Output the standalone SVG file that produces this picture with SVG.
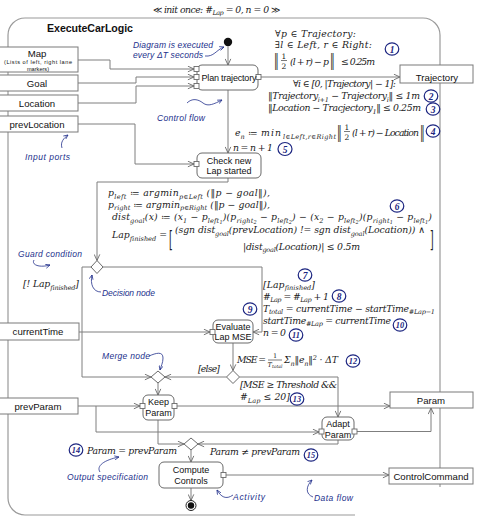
<svg xmlns="http://www.w3.org/2000/svg" width="486" height="526" viewBox="0 0 486 526">
<defs>
<style>
.fr{fill:none;stroke:#9a9a9a;stroke-width:1.2}
.ln{fill:none;stroke:#7f7f7f;stroke-width:1}
.nd{fill:#fff;stroke:#6a6a6a;stroke-width:1}
.pt{fill:#fff;stroke:#7a7a7a;stroke-width:1}
.pin{fill:#fff;stroke:#6a6a6a;stroke-width:0.9}
.t{font-family:"Liberation Sans",Arial,sans-serif;font-size:9px;fill:#111;text-anchor:middle}
.tp{font-family:"Liberation Sans",Arial,sans-serif;font-size:9.6px;fill:#111;text-anchor:middle}
.ts{font-family:"Liberation Sans",Arial,sans-serif;font-size:5.6px;fill:#111;text-anchor:middle}
.ti{font-family:"Liberation Sans",Arial,sans-serif;font-size:10.6px;font-weight:bold;fill:#111}
.m{font-family:"DejaVu Serif","Liberation Serif",serif;font-style:italic;font-size:9.3px;fill:#1a1a1a}
.fn{font-family:"DejaVu Serif","Liberation Serif",serif;font-size:7.5px;fill:#1a1a1a;text-anchor:middle}
.fs{font-family:"DejaVu Serif","Liberation Serif",serif;font-style:italic;font-size:6.5px;fill:#1a1a1a;text-anchor:middle}
.s{font-size:6.5px}
.ss{font-size:5px}
.u{font-style:normal}
.an{font-family:"Liberation Sans",Arial,sans-serif;font-style:italic;font-size:8.5px;fill:#22308c}
.ac{fill:none;stroke:#22308c;stroke-width:0.8}
.cc{fill:none;stroke:#1c2580;stroke-width:1.2}
.cn{font-family:"Liberation Serif",serif;font-style:italic;font-weight:bold;font-size:9.5px;fill:#1c2580;text-anchor:middle}
.cn2{font-family:"Liberation Serif",serif;font-style:italic;font-weight:bold;font-size:8.3px;fill:#1c2580;text-anchor:middle}
</style>
<marker id="ar" viewBox="0 0 8 8" refX="7.5" refY="4" markerWidth="7" markerHeight="7" orient="auto" markerUnits="userSpaceOnUse"><path d="M0.5,0.8 L7.5,4 L0.5,7.2" fill="none" stroke="#666" stroke-width="1"/></marker>
<marker id="ab" viewBox="0 0 8 8" refX="7.5" refY="4" markerWidth="5" markerHeight="5" orient="auto" markerUnits="userSpaceOnUse"><path d="M0.5,0.8 L7.5,4 L0.5,7.2" fill="none" stroke="#22308c" stroke-width="1.2"/></marker>
</defs>
<rect width="486" height="526" fill="#fff"/>

<g id="activity-frame">
<path class="fr" d="M355,515 H25 A17,17 0 0 1 8,498 V35 A17,17 0 0 1 25,18 H423 A17,17 0 0 1 440,35 V487"/>
<text class="ti" x="47" y="32" textLength="86">ExecuteCarLogic</text>
<text class="m" x="153" y="13" textLength="127"><tspan class="u">≪ </tspan>init once: #<tspan class="s" dy="2">Lap</tspan><tspan dy="-2"> = 0, n = 0 </tspan><tspan class="u">≫</tspan></text>
</g>

<g id="connectors">
<path class="ln" d="M228,46.5 V65" marker-end="url(#ar)"/>
<path class="ln" d="M78,60 H110 V69 H194" marker-end="url(#ar)"/>
<path class="ln" d="M78,83 H136 V77 H194" marker-end="url(#ar)"/>
<path class="ln" d="M78,103 H136 V86 H194" marker-end="url(#ar)"/>
<path class="ln" d="M261,77 H400" marker-end="url(#ar)"/>
<path class="ln" d="M228,90 V153" marker-end="url(#ar)"/>
<path class="ln" d="M78,124 H135 V164 H194" marker-end="url(#ar)"/>
<path class="ln" d="M228,178 V182 H97 V260.5" marker-end="url(#ar)"/>
<path class="ln" d="M91,267 H82 V377 H151" marker-end="url(#ar)"/>
<path class="ln" d="M103,267 H262 V332 H253" marker-end="url(#ar)"/>
<path class="ln" d="M79,332 H210" marker-end="url(#ar)"/>
<path class="ln" d="M233,343 V370.5" marker-end="url(#ar)"/>
<path class="ln" d="M226.5,377 H165" marker-end="url(#ar)"/>
<path class="ln" d="M239.5,377 H338 V417" marker-end="url(#ar)"/>
<path class="ln" d="M158,383 V395" marker-end="url(#ar)"/>
<path class="ln" d="M78,406 H140" marker-end="url(#ar)"/>
<path class="ln" d="M96,406 V432 H319" marker-end="url(#ar)"/>
<path class="ln" d="M177,406 H390" marker-end="url(#ar)"/>
<path class="ln" d="M357,431.5 H431 V408" marker-end="url(#ar)"/>
<path class="ln" d="M158,420 V444 H184" marker-end="url(#ar)"/>
<path class="ln" d="M338,440 V444 H198" marker-end="url(#ar)"/>
<path class="ln" d="M191,450 V462" marker-end="url(#ar)"/>
<path class="ln" d="M226,475 H389" marker-end="url(#ar)"/>
<path class="ln" d="M191,488 V500.5" marker-end="url(#ar)"/>
</g>

<g id="port-map"><rect class="pt" x="-2" y="47" width="80" height="25"/><text class="tp" x="37" y="56.5">Map</text><text class="ts" x="38" y="64" textLength="68">(Lists of left, right lane</text><text class="ts" x="38" y="70.5">markers)</text></g>
<g id="port-goal"><rect class="pt" x="-2" y="75" width="80" height="16"/><text class="tp" x="37" y="86.5">Goal</text></g>
<g id="port-location"><rect class="pt" x="-2" y="95" width="80" height="16"/><text class="tp" x="37" y="106.5">Location</text></g>
<g id="port-prevlocation"><rect class="pt" x="-2" y="116" width="80" height="16"/><text class="tp" x="37" y="127.5">prevLocation</text></g>
<g id="port-currenttime"><rect class="pt" x="-2" y="323" width="81" height="17"/><text class="tp" x="38" y="335">currentTime</text></g>
<g id="port-prevparam"><rect class="pt" x="-2" y="398" width="80" height="16"/><text class="tp" x="38" y="409.5">prevParam</text></g>

<g id="port-trajectory"><rect class="pt" x="400" y="65" width="73" height="18"/><text class="tp" x="437" y="80.5">Trajectory</text></g>
<g id="port-param"><rect class="pt" x="390" y="392" width="83" height="16"/><text class="tp" x="431" y="403.5">Param</text></g>
<g id="port-controlcommand"><rect class="pt" x="389" y="468" width="84" height="16"/><text class="tp" x="431" y="479.5">ControlCommand</text></g>

<g id="initial-node"><circle cx="228" cy="42" r="4.2" fill="#111"/></g>
<g id="final-node"><circle cx="191" cy="505.5" r="5" fill="#fff" stroke="#222" stroke-width="1"/><circle cx="191" cy="505.5" r="3.2" fill="#111"/></g>
<g id="decision-lap"><path class="nd" d="M97,260.5 L103,267 L97,273.5 L91,267 Z"/></g>
<g id="decision-mse"><path class="nd" d="M233,370.5 L239.5,377 L233,383.5 L226.5,377 Z"/></g>
<g id="merge-keep"><path class="nd" d="M158,371 L165,377 L158,383 L151,377 Z"/></g>
<g id="merge-param"><path class="nd" d="M191,438 L198,444 L191,450 L184,444 Z"/></g>

<g id="plan-trajectory">
<rect class="nd" x="197" y="65" width="61" height="25" rx="5"/>
<rect class="pin" x="194" y="66.5" width="5" height="5"/>
<rect class="pin" x="194" y="74.5" width="5" height="5"/>
<rect class="pin" x="194" y="83.5" width="5" height="5"/>
<rect class="pin" x="256" y="74.5" width="5" height="5"/>
<text class="t" x="229" y="81" textLength="55">Plan trajectory</text>
</g>
<g id="check-new-lap">
<rect class="nd" x="197" y="153" width="64" height="25" rx="5"/>
<rect class="pin" x="194" y="161.5" width="5" height="5"/>
<text class="t" x="229" y="163.5">Check new</text>
<text class="t" x="229" y="174">Lap started</text>
</g>
<g id="evaluate-lap-mse">
<rect class="nd" x="213" y="320" width="40" height="23" rx="5"/>
<rect class="pin" x="210" y="329.5" width="5" height="5"/>
<text class="t" x="233" y="330">Evaluate</text>
<text class="t" x="233" y="340">Lap MSE</text>
</g>
<g id="keep-param">
<rect class="nd" x="143" y="395" width="31" height="25" rx="5"/>
<rect class="pin" x="140" y="403.5" width="5" height="5"/>
<rect class="pin" x="172" y="403.5" width="5" height="5"/>
<text class="t" x="158.5" y="405">Keep</text>
<text class="t" x="158.5" y="416">Param</text>
</g>
<g id="adapt-param">
<rect class="nd" x="322" y="417" width="32" height="23" rx="5"/>
<rect class="pin" x="319" y="429" width="5" height="5"/>
<rect class="pin" x="352" y="429" width="5" height="5"/>
<text class="t" x="338" y="427">Adapt</text>
<text class="t" x="338" y="437.5">Param</text>
</g>
<g id="compute-controls">
<rect class="nd" x="159" y="462" width="64" height="26" rx="5"/>
<rect class="pin" x="221" y="472.5" width="5" height="5"/>
<text class="t" x="191" y="472.5">Compute</text>
<text class="t" x="191" y="483.5">Controls</text>
</g>

<g id="labels">
<text class="m" x="275" y="37" textLength="81">∀p ∈ Trajectory:</text>
<text class="m" x="275" y="48" textLength="97">∃l ∈ Left, r ∈ Right:</text>
<text class="m u" transform="translate(274,66) scale(1,1.8)">‖</text>
<text class="fn" x="284" y="58.5">1</text>
<line x1="281" y1="60.5" x2="287" y2="60.5" stroke="#222" stroke-width="0.6"/>
<text class="fn" x="284" y="68.5">2</text>
<text class="m" x="290" y="65" textLength="39">(l + r) − p</text>
<text class="m u" transform="translate(330,66) scale(1,1.8)">‖</text>
<text class="m" x="341" y="65" textLength="34">≤ 0.25m</text>

<text class="m" x="293" y="87" textLength="103">∀i ∈ [0, |Trajectory| − 1]:</text>
<text class="m" x="268" y="99" textLength="152">‖Trajectory<tspan class="s" dy="2.5">i+1</tspan><tspan dy="-2.5"> − Trajectory</tspan><tspan class="s" dy="2.5">i</tspan><tspan dy="-2.5">‖ ≤ 1m</tspan></text>
<text class="m" x="268" y="111" textLength="153">‖Location − Tracjectory<tspan class="s" dy="2.5">1</tspan><tspan dy="-2.5">‖ ≤ 0.25m</tspan></text>

<text class="m" x="235" y="136">e<tspan class="s" dy="2.5">n</tspan></text>
<text class="m" x="248" y="136">≔</text>
<text class="m" x="261" y="136" textLength="20">min</text>
<text class="m" x="283" y="138.5" style="font-size:6.5px" textLength="53">l∈Left,r∈Right</text>
<text class="m u" transform="translate(337,138) scale(1,1.8)">‖</text>
<text class="fn" x="347" y="129.5">1</text>
<line x1="344" y1="131.5" x2="350" y2="131.5" stroke="#222" stroke-width="0.6"/>
<text class="fn" x="347" y="139.5">2</text>
<text class="m" x="352" y="136" textLength="67">(l + r) − Location</text>
<text class="m u" transform="translate(420,138) scale(1,1.8)">‖</text>

<text class="m" x="233" y="151" textLength="40">n = n + 1</text>

<text class="m" x="108" y="196" textLength="162">p<tspan class="s" dy="2.5">left</tspan><tspan dy="-2.5"> ≔ argmin</tspan><tspan class="s" dy="2.5">p∈Left</tspan><tspan dy="-2.5"> (‖p − goal‖),</tspan></text>
<text class="m" x="108" y="207.5" textLength="162">p<tspan class="s" dy="2.5">right</tspan><tspan dy="-2.5"> ≔ argmin</tspan><tspan class="s" dy="2.5">p∈Right</tspan><tspan dy="-2.5"> (‖p − goal‖),</tspan></text>
<text class="m" x="112" y="220" textLength="320">dist<tspan class="s" dy="2.5">goal</tspan><tspan dy="-2.5">(x) ≔ (x</tspan><tspan class="s" dy="2.5">1</tspan><tspan dy="-2.5"> − p</tspan><tspan class="s" dy="2.5">left</tspan><tspan class="ss" dy="1.5">1</tspan><tspan dy="-4">)(p</tspan><tspan class="s" dy="2.5">right</tspan><tspan class="ss" dy="1.5">2</tspan><tspan dy="-4"> − p</tspan><tspan class="s" dy="2.5">left</tspan><tspan class="ss" dy="1.5">2</tspan><tspan dy="-4">) − (x</tspan><tspan class="s" dy="2.5">2</tspan><tspan dy="-2.5"> − p</tspan><tspan class="s" dy="2.5">left</tspan><tspan class="ss" dy="1.5">2</tspan><tspan dy="-4">)(p</tspan><tspan class="s" dy="2.5">right</tspan><tspan class="ss" dy="1.5">1</tspan><tspan dy="-4"> − p</tspan><tspan class="s" dy="2.5">left</tspan><tspan class="ss" dy="1.5">1</tspan><tspan dy="-4">)</tspan></text>
<text class="m" x="112" y="238" textLength="55">Lap<tspan class="s" dy="2.5">finished</tspan><tspan dy="-2.5"> =</tspan></text>
<text class="m u" transform="translate(169,247) scale(1,2.4)">[</text>
<text class="m" x="175" y="233" textLength="250">(sgn  dist<tspan class="s" dy="2.5">goal</tspan><tspan dy="-2.5">(prevLocation) != sgn  dist</tspan><tspan class="s" dy="2.5">goal</tspan><tspan dy="-2.5">(Location)) ∧</tspan></text>
<text class="m" x="243" y="249.5" textLength="117">|dist<tspan class="s" dy="2.5">goal</tspan><tspan dy="-2.5">(Location)| ≤ 0.5m</tspan></text>
<text class="m u" transform="translate(430,247) scale(1,2.4)">]</text>

<text class="m" x="23" y="287" textLength="56">[! Lap<tspan class="s" dy="2.5">finished</tspan><tspan dy="-2.5">]</tspan></text>
<text class="m" x="263" y="287.5" textLength="52">[Lap<tspan class="s" dy="2">finished</tspan><tspan dy="-2">]</tspan></text>
<text class="m" x="263" y="299.5" textLength="66">#<tspan class="s" dy="2">Lap</tspan><tspan dy="-2"> = #</tspan><tspan class="s" dy="2">Lap</tspan><tspan dy="-2"> + 1</tspan></text>
<text class="m" x="263" y="311.5" textLength="172">T<tspan class="s" dy="2">total</tspan><tspan dy="-2"> = currentTime − startTime</tspan><tspan class="s" dy="2">#Lap−1</tspan></text>
<text class="m" x="263" y="323.5" textLength="128">startTime<tspan class="s" dy="2">#Lap</tspan><tspan dy="-2"> = currentTime</tspan></text>
<text class="m" x="263" y="335.5" textLength="23">n = 0</text>

<text class="m" x="237" y="363" textLength="29">MSE =</text>
<text class="fn" x="275" y="358" style="font-size:6.5px">1</text>
<line x1="268" y1="360" x2="282" y2="360" stroke="#222" stroke-width="0.6"/>
<text class="fs" x="275" y="366.5">T<tspan font-size="4.5" dy="1.5">total</tspan></text>
<text class="m" x="284" y="363" textLength="54">Σ<tspan class="s" dy="2.5">n</tspan><tspan dy="-2.5">‖e</tspan><tspan class="s" dy="2.5">n</tspan><tspan dy="-2.5">‖</tspan><tspan class="s" dy="-3.5">2</tspan><tspan dy="3.5"> · ΔT</tspan></text>
<text class="m" x="198" y="372" textLength="22">[else]</text>
<text class="m" x="240" y="388" textLength="97">[MSE ≥ Threshold &amp;&amp;</text>
<text class="m" x="240" y="400" textLength="50">#<tspan class="s" dy="2.5">Lap</tspan><tspan dy="-2.5"> ≤ 20]</tspan></text>

<text class="m" x="87" y="454" textLength="90">Param = prevParam</text>
<text class="m" x="210" y="455" textLength="90">Param ≠ prevParam</text>
</g>

<g id="numbers">
<ellipse class="cc" cx="392" cy="49" rx="6.8" ry="6.2"/><text class="cn" x="392" y="52.5">1</text>
<ellipse class="cc" cx="431" cy="96" rx="6.8" ry="6.2"/><text class="cn" x="431" y="99.5">2</text>
<ellipse class="cc" cx="433" cy="109" rx="6.8" ry="6.2"/><text class="cn" x="433" y="112.5">3</text>
<ellipse class="cc" cx="433" cy="131" rx="6.8" ry="6.2"/><text class="cn" x="433" y="134.5">4</text>
<ellipse class="cc" cx="285" cy="149" rx="7" ry="6.5"/><text class="cn" x="285" y="152.5">5</text>
<ellipse class="cc" cx="397" cy="206" rx="6.8" ry="6.2"/><text class="cn" x="397" y="209.5">6</text>
<ellipse class="cc" cx="305" cy="275" rx="6.8" ry="6.2"/><text class="cn" x="305" y="278.5">7</text>
<ellipse class="cc" cx="339" cy="296" rx="6.8" ry="6.2"/><text class="cn" x="339" y="299.5">8</text>
<ellipse class="cc" cx="250" cy="309" rx="6.8" ry="6.2"/><text class="cn" x="250" y="312.5">9</text>
<ellipse class="cc" cx="400" cy="325" rx="6.8" ry="6.2"/><text class="cn2" x="400" y="328">10</text>
<ellipse class="cc" cx="296" cy="335" rx="6.8" ry="6.2"/><text class="cn2" x="296" y="338">11</text>
<ellipse class="cc" cx="353" cy="361" rx="6.8" ry="6.2"/><text class="cn2" x="353" y="364">12</text>
<ellipse class="cc" cx="297" cy="399" rx="6.8" ry="6.2"/><text class="cn2" x="297" y="402">13</text>
<ellipse class="cc" cx="76" cy="450" rx="6.8" ry="6.2"/><text class="cn2" x="76" y="453">14</text>
<ellipse class="cc" cx="311" cy="455" rx="6.8" ry="6.2"/><text class="cn2" x="311" y="458">15</text>
</g>

<g id="annotations">
<text class="an" x="133" y="48" textLength="80">Diagram is executed</text>
<text class="an" x="133" y="58" textLength="70">every ΔT seconds</text>
<path class="ac" d="M205,56 C214,57 216,50 224,47" marker-end="url(#ab)"/>
<text class="an" x="157" y="121" textLength="48">Control flow</text>
<path class="ac" d="M187,103 C192,98 198,99 203,103 C208,107 214,104 222,100" marker-end="url(#ab)"/>
<text class="an" x="25" y="160" textLength="45">Input ports</text>
<path class="ac" d="M62,148 C60,142 64,138 68,135" marker-end="url(#ab)"/>
<text class="an" x="18" y="257" textLength="64">Guard condition</text>
<path class="ac" d="M34,260 C31,265 40,268 50,265" marker-end="url(#ab)"/>
<text class="an" x="102" y="296" textLength="53">Decision node</text>
<path class="ac" d="M101,292 C93,292 90,284 92,275" marker-end="url(#ab)"/>
<text class="an" x="102" y="359" textLength="48">Merge node</text>
<path class="ac" d="M149,356 C156,353 163,351 163,358 C163,363 161,366 160,370" marker-end="url(#ab)"/>
<text class="an" x="67" y="480" textLength="81">Output specification</text>
<path class="ac" d="M100,472 C96,466 104,460 119,457" marker-end="url(#ab)"/>
<text class="an" x="233" y="500" textLength="32">Activity</text>
<path class="ac" d="M233,495 C226,500 221,497 217,490" marker-end="url(#ab)"/>
<text class="an" x="314" y="501" textLength="39">Data flow</text>
<path class="ac" d="M313,497 C305,494 306,486 312,480" marker-end="url(#ab)"/>
</g>
</svg>
